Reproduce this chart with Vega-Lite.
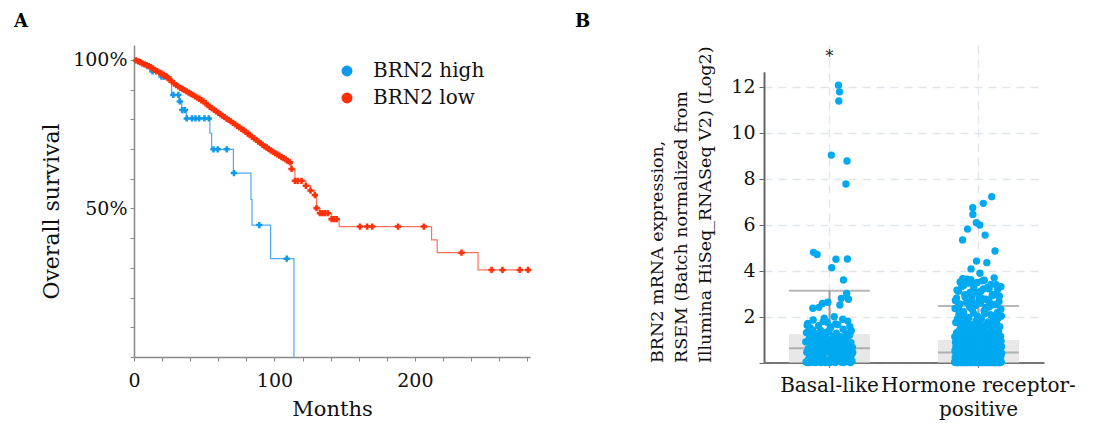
{
"$schema": "https://vega.github.io/schema/vega-lite/v6.json",
"background": "white",
"padding": {"left": 14, "top": 13, "right": 0, "bottom": 0},
"spacing": 43,
"config": {
  "font": "DejaVu Serif",
  "view": {"stroke": null},
  "axis": {"labelFont": "DejaVu Serif", "titleFont": "DejaVu Serif", "labelColor": "#111", "titleColor": "#111", "titleFontWeight": "normal"},
  "legend": {"labelFont": "DejaVu Serif"}
},
"datasets": {
  "km": [
    {"group":"BRN2 high","month":0,"surv":1,"censor":0},
    {"group":"BRN2 high","month":3,"surv":0.99,"censor":0},
    {"group":"BRN2 high","month":6,"surv":0.98,"censor":0},
    {"group":"BRN2 high","month":9,"surv":0.97,"censor":0},
    {"group":"BRN2 high","month":11.4,"surv":0.961,"censor":0},
    {"group":"BRN2 high","month":13.2,"surv":0.961,"censor":1},
    {"group":"BRN2 high","month":15.8,"surv":0.961,"censor":1},
    {"group":"BRN2 high","month":18.5,"surv":0.944,"censor":0},
    {"group":"BRN2 high","month":19.6,"surv":0.944,"censor":1},
    {"group":"BRN2 high","month":21.4,"surv":0.944,"censor":1},
    {"group":"BRN2 high","month":23.4,"surv":0.944,"censor":1},
    {"group":"BRN2 high","month":26.8,"surv":0.882,"censor":0},
    {"group":"BRN2 high","month":28,"surv":0.882,"censor":1},
    {"group":"BRN2 high","month":31.6,"surv":0.882,"censor":1},
    {"group":"BRN2 high","month":32.2,"surv":0.86,"censor":0},
    {"group":"BRN2 high","month":32.6,"surv":0.86,"censor":1},
    {"group":"BRN2 high","month":34,"surv":0.831,"censor":0},
    {"group":"BRN2 high","month":34.4,"surv":0.831,"censor":1},
    {"group":"BRN2 high","month":36.2,"surv":0.831,"censor":1},
    {"group":"BRN2 high","month":37.3,"surv":0.803,"censor":0},
    {"group":"BRN2 high","month":37.6,"surv":0.803,"censor":1},
    {"group":"BRN2 high","month":41.3,"surv":0.803,"censor":1},
    {"group":"BRN2 high","month":43.8,"surv":0.803,"censor":1},
    {"group":"BRN2 high","month":46.4,"surv":0.803,"censor":1},
    {"group":"BRN2 high","month":50.2,"surv":0.803,"censor":1},
    {"group":"BRN2 high","month":53.3,"surv":0.803,"censor":1},
    {"group":"BRN2 high","month":54,"surv":0.753,"censor":0},
    {"group":"BRN2 high","month":55.3,"surv":0.699,"censor":0},
    {"group":"BRN2 high","month":56.6,"surv":0.699,"censor":1},
    {"group":"BRN2 high","month":59.6,"surv":0.699,"censor":1},
    {"group":"BRN2 high","month":66,"surv":0.699,"censor":1},
    {"group":"BRN2 high","month":70.8,"surv":0.619,"censor":0},
    {"group":"BRN2 high","month":71.2,"surv":0.619,"censor":1},
    {"group":"BRN2 high","month":83.3,"surv":0.53,"censor":0},
    {"group":"BRN2 high","month":84,"surv":0.444,"censor":0},
    {"group":"BRN2 high","month":89.2,"surv":0.444,"censor":1},
    {"group":"BRN2 high","month":97.3,"surv":0.331,"censor":0},
    {"group":"BRN2 high","month":108.8,"surv":0.331,"censor":1},
    {"group":"BRN2 high","month":113.9,"surv":0,"censor":0},
    {"group":"BRN2 low","month":0,"surv":1,"censor":0},
    {"group":"BRN2 low","month":1.5,"surv":0.998,"censor":1},
    {"group":"BRN2 low","month":3,"surv":0.995,"censor":1},
    {"group":"BRN2 low","month":4.5,"surv":0.992,"censor":1},
    {"group":"BRN2 low","month":6,"surv":0.988,"censor":1},
    {"group":"BRN2 low","month":7.5,"surv":0.985,"censor":1},
    {"group":"BRN2 low","month":9,"surv":0.982,"censor":1},
    {"group":"BRN2 low","month":10.5,"surv":0.979,"censor":1},
    {"group":"BRN2 low","month":12,"surv":0.975,"censor":1},
    {"group":"BRN2 low","month":13.5,"surv":0.971,"censor":1},
    {"group":"BRN2 low","month":15,"surv":0.966,"censor":1},
    {"group":"BRN2 low","month":16.5,"surv":0.962,"censor":1},
    {"group":"BRN2 low","month":18,"surv":0.958,"censor":1},
    {"group":"BRN2 low","month":19.5,"surv":0.954,"censor":1},
    {"group":"BRN2 low","month":21,"surv":0.95,"censor":1},
    {"group":"BRN2 low","month":22.5,"surv":0.945,"censor":1},
    {"group":"BRN2 low","month":24,"surv":0.939,"censor":1},
    {"group":"BRN2 low","month":25.5,"surv":0.933,"censor":1},
    {"group":"BRN2 low","month":27,"surv":0.927,"censor":1},
    {"group":"BRN2 low","month":28.5,"surv":0.921,"censor":1},
    {"group":"BRN2 low","month":30,"surv":0.915,"censor":1},
    {"group":"BRN2 low","month":31.5,"surv":0.911,"censor":1},
    {"group":"BRN2 low","month":33,"surv":0.906,"censor":1},
    {"group":"BRN2 low","month":34.5,"surv":0.902,"censor":1},
    {"group":"BRN2 low","month":36,"surv":0.898,"censor":1},
    {"group":"BRN2 low","month":37.5,"surv":0.894,"censor":1},
    {"group":"BRN2 low","month":39,"surv":0.89,"censor":1},
    {"group":"BRN2 low","month":40.5,"surv":0.886,"censor":1},
    {"group":"BRN2 low","month":42,"surv":0.882,"censor":1},
    {"group":"BRN2 low","month":43.5,"surv":0.877,"censor":1},
    {"group":"BRN2 low","month":45,"surv":0.873,"censor":1},
    {"group":"BRN2 low","month":46.5,"surv":0.869,"censor":1},
    {"group":"BRN2 low","month":48,"surv":0.864,"censor":1},
    {"group":"BRN2 low","month":49.5,"surv":0.86,"censor":1},
    {"group":"BRN2 low","month":51,"surv":0.854,"censor":1},
    {"group":"BRN2 low","month":52.5,"surv":0.848,"censor":1},
    {"group":"BRN2 low","month":54,"surv":0.842,"censor":1},
    {"group":"BRN2 low","month":55.5,"surv":0.837,"censor":1},
    {"group":"BRN2 low","month":57,"surv":0.832,"censor":1},
    {"group":"BRN2 low","month":58.5,"surv":0.827,"censor":1},
    {"group":"BRN2 low","month":60,"surv":0.822,"censor":1},
    {"group":"BRN2 low","month":61.5,"surv":0.817,"censor":1},
    {"group":"BRN2 low","month":63,"surv":0.812,"censor":1},
    {"group":"BRN2 low","month":64.5,"surv":0.807,"censor":1},
    {"group":"BRN2 low","month":66,"surv":0.802,"censor":1},
    {"group":"BRN2 low","month":67.5,"surv":0.798,"censor":1},
    {"group":"BRN2 low","month":69,"surv":0.793,"censor":1},
    {"group":"BRN2 low","month":70.5,"surv":0.788,"censor":1},
    {"group":"BRN2 low","month":72,"surv":0.783,"censor":1},
    {"group":"BRN2 low","month":73.5,"surv":0.778,"censor":1},
    {"group":"BRN2 low","month":75,"surv":0.773,"censor":1},
    {"group":"BRN2 low","month":76.5,"surv":0.768,"censor":1},
    {"group":"BRN2 low","month":78,"surv":0.763,"censor":1},
    {"group":"BRN2 low","month":79.5,"surv":0.758,"censor":1},
    {"group":"BRN2 low","month":81,"surv":0.752,"censor":1},
    {"group":"BRN2 low","month":82.5,"surv":0.747,"censor":1},
    {"group":"BRN2 low","month":84,"surv":0.741,"censor":1},
    {"group":"BRN2 low","month":85.5,"surv":0.736,"censor":1},
    {"group":"BRN2 low","month":87,"surv":0.731,"censor":1},
    {"group":"BRN2 low","month":88.5,"surv":0.725,"censor":1},
    {"group":"BRN2 low","month":90,"surv":0.72,"censor":1},
    {"group":"BRN2 low","month":91.5,"surv":0.714,"censor":1},
    {"group":"BRN2 low","month":93,"surv":0.709,"censor":1},
    {"group":"BRN2 low","month":94.5,"surv":0.705,"censor":1},
    {"group":"BRN2 low","month":96,"surv":0.7,"censor":1},
    {"group":"BRN2 low","month":97.5,"surv":0.695,"censor":1},
    {"group":"BRN2 low","month":99,"surv":0.691,"censor":1},
    {"group":"BRN2 low","month":100.5,"surv":0.686,"censor":1},
    {"group":"BRN2 low","month":102,"surv":0.682,"censor":1},
    {"group":"BRN2 low","month":103.5,"surv":0.678,"censor":1},
    {"group":"BRN2 low","month":105,"surv":0.673,"censor":1},
    {"group":"BRN2 low","month":106.5,"surv":0.669,"censor":1},
    {"group":"BRN2 low","month":108,"surv":0.665,"censor":1},
    {"group":"BRN2 low","month":109.5,"surv":0.66,"censor":1},
    {"group":"BRN2 low","month":111,"surv":0.655,"censor":1},
    {"group":"BRN2 low","month":112.2,"surv":0.633,"censor":1},
    {"group":"BRN2 low","month":114.6,"surv":0.593,"censor":1},
    {"group":"BRN2 low","month":116.5,"surv":0.593,"censor":1},
    {"group":"BRN2 low","month":119.3,"surv":0.593,"censor":1},
    {"group":"BRN2 low","month":122.4,"surv":0.576,"censor":1},
    {"group":"BRN2 low","month":125.7,"surv":0.56,"censor":1},
    {"group":"BRN2 low","month":128.8,"surv":0.545,"censor":1},
    {"group":"BRN2 low","month":130,"surv":0.501,"censor":1},
    {"group":"BRN2 low","month":132.4,"surv":0.484,"censor":1},
    {"group":"BRN2 low","month":134.2,"surv":0.484,"censor":1},
    {"group":"BRN2 low","month":136,"surv":0.484,"censor":1},
    {"group":"BRN2 low","month":138,"surv":0.484,"censor":1},
    {"group":"BRN2 low","month":140.7,"surv":0.464,"censor":1},
    {"group":"BRN2 low","month":142.5,"surv":0.464,"censor":1},
    {"group":"BRN2 low","month":144.3,"surv":0.464,"censor":1},
    {"group":"BRN2 low","month":146.1,"surv":0.439,"censor":0},
    {"group":"BRN2 low","month":160.9,"surv":0.439,"censor":1},
    {"group":"BRN2 low","month":166,"surv":0.439,"censor":1},
    {"group":"BRN2 low","month":169.6,"surv":0.439,"censor":1},
    {"group":"BRN2 low","month":188,"surv":0.439,"censor":1},
    {"group":"BRN2 low","month":206.4,"surv":0.439,"censor":1},
    {"group":"BRN2 low","month":211.9,"surv":0.394,"censor":0},
    {"group":"BRN2 low","month":215.9,"surv":0.351,"censor":0},
    {"group":"BRN2 low","month":233.2,"surv":0.351,"censor":1},
    {"group":"BRN2 low","month":245,"surv":0.293,"censor":0},
    {"group":"BRN2 low","month":254.6,"surv":0.293,"censor":1},
    {"group":"BRN2 low","month":262.4,"surv":0.293,"censor":1},
    {"group":"BRN2 low","month":274.7,"surv":0.293,"censor":1},
    {"group":"BRN2 low","month":280.6,"surv":0.293,"censor":1}
  ],
  "box": [
    {"type":"Basal-like","q1":0,"median":0.62,"q3":1.24,"upper":3.12},
    {"type":"Hormone receptor-positive","q1":0,"median":0.43,"q3":0.98,"upper":2.46}
  ],
  "expr": [
    {"type":"Basal-like","expr":0.9},{"type":"Basal-like","expr":0.02},{"type":"Basal-like","expr":1.3},{"type":"Basal-like","expr":0.45},{"type":"Basal-like","expr":1.62},
    {"type":"Basal-like","expr":0},{"type":"Basal-like","expr":1.7},{"type":"Basal-like","expr":0.6},{"type":"Basal-like","expr":0.15},{"type":"Basal-like","expr":0.95},
    {"type":"Basal-like","expr":1.05},{"type":"Basal-like","expr":0.3},{"type":"Basal-like","expr":0},{"type":"Basal-like","expr":1.5},{"type":"Basal-like","expr":0.33},
    {"type":"Basal-like","expr":0.75},{"type":"Basal-like","expr":0.05},{"type":"Basal-like","expr":1.15},{"type":"Basal-like","expr":0.4},{"type":"Basal-like","expr":1.42},
    {"type":"Basal-like","expr":2.36},{"type":"Basal-like","expr":1.85},{"type":"Basal-like","expr":4.79},{"type":"Basal-like","expr":0.01},{"type":"Basal-like","expr":0.7},
    {"type":"Basal-like","expr":0.85},{"type":"Basal-like","expr":0.2},{"type":"Basal-like","expr":1.0},{"type":"Basal-like","expr":0},{"type":"Basal-like","expr":1.22},
    {"type":"Basal-like","expr":0.55},{"type":"Basal-like","expr":1.25},{"type":"Basal-like","expr":4.70},{"type":"Basal-like","expr":0.1},{"type":"Basal-like","expr":0.48},
    {"type":"Basal-like","expr":0.7},{"type":"Basal-like","expr":1.6},{"type":"Basal-like","expr":2.4},{"type":"Basal-like","expr":0.03},{"type":"Basal-like","expr":1.08},
    {"type":"Basal-like","expr":0.95},{"type":"Basal-like","expr":0.35},{"type":"Basal-like","expr":1.4},{"type":"Basal-like","expr":0},{"type":"Basal-like","expr":0.82},
    {"type":"Basal-like","expr":0.65},{"type":"Basal-like","expr":1.1},{"type":"Basal-like","expr":2.57},{"type":"Basal-like","expr":0.25},{"type":"Basal-like","expr":1.78},
    {"type":"Basal-like","expr":0.8},{"type":"Basal-like","expr":0.04},{"type":"Basal-like","expr":1.93},{"type":"Basal-like","expr":0.5},{"type":"Basal-like","expr":0.58},
    {"type":"Basal-like","expr":1.2},{"type":"Basal-like","expr":0},{"type":"Basal-like","expr":0.12},{"type":"Basal-like","expr":0.88},{"type":"Basal-like","expr":1.32},
    {"type":"Basal-like","expr":1.75},{"type":"Basal-like","expr":0.6},{"type":"Basal-like","expr":2.62},{"type":"Basal-like","expr":0.02},{"type":"Basal-like","expr":0.9},
    {"type":"Basal-like","expr":1.35},{"type":"Basal-like","expr":0.42},{"type":"Basal-like","expr":0.98},{"type":"Basal-like","expr":0},{"type":"Basal-like","expr":1.5},
    {"type":"Basal-like","expr":0.72},{"type":"Basal-like","expr":1.55},{"type":"Basal-like","expr":9.02},{"type":"Basal-like","expr":4.12},{"type":"Basal-like","expr":0.26},
    {"type":"Basal-like","expr":0.18},{"type":"Basal-like","expr":1.08},{"type":"Basal-like","expr":0.06},{"type":"Basal-like","expr":0.58},{"type":"Basal-like","expr":1.15},
    {"type":"Basal-like","expr":1.99},{"type":"Basal-like","expr":0.32},{"type":"Basal-like","expr":0.82},{"type":"Basal-like","expr":0},{"type":"Basal-like","expr":1.68},
    {"type":"Basal-like","expr":4.49},{"type":"Basal-like","expr":1.28},{"type":"Basal-like","expr":0.48},{"type":"Basal-like","expr":0.08},{"type":"Basal-like","expr":0.76},
    {"type":"Basal-like","expr":1.65},{"type":"Basal-like","expr":0.68},{"type":"Basal-like","expr":12.06},{"type":"Basal-like","expr":11.37},{"type":"Basal-like","expr":1.02},
    {"type":"Basal-like","expr":11.77},{"type":"Basal-like","expr":2.5},{"type":"Basal-like","expr":0.22},{"type":"Basal-like","expr":1.12},{"type":"Basal-like","expr":0.62},
    {"type":"Basal-like","expr":2.79},{"type":"Basal-like","expr":0.01},{"type":"Basal-like","expr":0.92},{"type":"Basal-like","expr":0.38},{"type":"Basal-like","expr":1.88},
    {"type":"Basal-like","expr":1.45},{"type":"Basal-like","expr":3.59},{"type":"Basal-like","expr":0},{"type":"Basal-like","expr":0.78},{"type":"Basal-like","expr":0.44},
    {"type":"Basal-like","expr":0.14},{"type":"Basal-like","expr":1.02},{"type":"Basal-like","expr":0.52},{"type":"Basal-like","expr":7.76},{"type":"Basal-like","expr":1.26},
    {"type":"Basal-like","expr":3.0},{"type":"Basal-like","expr":8.76},{"type":"Basal-like","expr":4.50},{"type":"Basal-like","expr":1.8},{"type":"Basal-like","expr":0.84},
    {"type":"Basal-like","expr":2.75},{"type":"Basal-like","expr":0.03},{"type":"Basal-like","expr":0.62},{"type":"Basal-like","expr":1.18},{"type":"Basal-like","expr":1.56},
    {"type":"Basal-like","expr":0.28},{"type":"Basal-like","expr":0},{"type":"Basal-like","expr":0.86},{"type":"Basal-like","expr":1.38},{"type":"Basal-like","expr":0.36},
    {"type":"Basal-like","expr":0.07},{"type":"Basal-like","expr":0.66},{"type":"Basal-like","expr":0.44},
    {"type":"Hormone receptor-positive","expr":0.02},{"type":"Hormone receptor-positive","expr":1.12},{"type":"Hormone receptor-positive","expr":0.51},{"type":"Hormone receptor-positive","expr":2.35},{"type":"Hormone receptor-positive","expr":0.22},{"type":"Hormone receptor-positive","expr":2.7},{"type":"Hormone receptor-positive","expr":0.88},{"type":"Hormone receptor-positive","expr":0},{"type":"Hormone receptor-positive","expr":1.74},{"type":"Hormone receptor-positive","expr":0.69},{"type":"Hormone receptor-positive","expr":0.38},
    {"type":"Hormone receptor-positive","expr":0.6},{"type":"Hormone receptor-positive","expr":0.05},{"type":"Hormone receptor-positive","expr":2.8},{"type":"Hormone receptor-positive","expr":1.3},{"type":"Hormone receptor-positive","expr":0.31},{"type":"Hormone receptor-positive","expr":3.15},{"type":"Hormone receptor-positive","expr":0},{"type":"Hormone receptor-positive","expr":0.95},{"type":"Hormone receptor-positive","expr":0.42},{"type":"Hormone receptor-positive","expr":1.9},{"type":"Hormone receptor-positive","expr":0.74},
    {"type":"Hormone receptor-positive","expr":1.05},{"type":"Hormone receptor-positive","expr":0.18},{"type":"Hormone receptor-positive","expr":0},{"type":"Hormone receptor-positive","expr":0.57},{"type":"Hormone receptor-positive","expr":3.1},{"type":"Hormone receptor-positive","expr":2.45},{"type":"Hormone receptor-positive","expr":0.83},{"type":"Hormone receptor-positive","expr":0.03},{"type":"Hormone receptor-positive","expr":2.1},{"type":"Hormone receptor-positive","expr":0.36},{"type":"Hormone receptor-positive","expr":0.66},
    {"type":"Hormone receptor-positive","expr":0.01},{"type":"Hormone receptor-positive","expr":0.47},{"type":"Hormone receptor-positive","expr":1.42},{"type":"Hormone receptor-positive","expr":0.27},{"type":"Hormone receptor-positive","expr":2.55},{"type":"Hormone receptor-positive","expr":3.5},{"type":"Hormone receptor-positive","expr":0.91},{"type":"Hormone receptor-positive","expr":0.72},{"type":"Hormone receptor-positive","expr":0},{"type":"Hormone receptor-positive","expr":1.62},{"type":"Hormone receptor-positive","expr":0.4},
    {"type":"Hormone receptor-positive","expr":0.33},{"type":"Hormone receptor-positive","expr":1.21},{"type":"Hormone receptor-positive","expr":0.07},{"type":"Hormone receptor-positive","expr":0.63},{"type":"Hormone receptor-positive","expr":0},{"type":"Hormone receptor-positive","expr":2.2},{"type":"Hormone receptor-positive","expr":3.3},{"type":"Hormone receptor-positive","expr":0.98},{"type":"Hormone receptor-positive","expr":0.2},{"type":"Hormone receptor-positive","expr":1.85},{"type":"Hormone receptor-positive","expr":0.77},
    {"type":"Hormone receptor-positive","expr":5.33},{"type":"Hormone receptor-positive","expr":3.64},
    {"type":"Hormone receptor-positive","expr":0.04},{"type":"Hormone receptor-positive","expr":0.54},{"type":"Hormone receptor-positive","expr":1.08},{"type":"Hormone receptor-positive","expr":2.22},{"type":"Hormone receptor-positive","expr":0.16},{"type":"Hormone receptor-positive","expr":3.35},{"type":"Hormone receptor-positive","expr":0.86},{"type":"Hormone receptor-positive","expr":0},{"type":"Hormone receptor-positive","expr":2.05},{"type":"Hormone receptor-positive","expr":0.7},{"type":"Hormone receptor-positive","expr":0.35},
    {"type":"Hormone receptor-positive","expr":1.35},{"type":"Hormone receptor-positive","expr":0},{"type":"Hormone receptor-positive","expr":0.45},{"type":"Hormone receptor-positive","expr":2.95},{"type":"Hormone receptor-positive","expr":0.25},{"type":"Hormone receptor-positive","expr":2.85},{"type":"Hormone receptor-positive","expr":0.81},{"type":"Hormone receptor-positive","expr":0.06},{"type":"Hormone receptor-positive","expr":1.55},{"type":"Hormone receptor-positive","expr":0.64},{"type":"Hormone receptor-positive","expr":0.41},
    {"type":"Hormone receptor-positive","expr":0},{"type":"Hormone receptor-positive","expr":0.59},{"type":"Hormone receptor-positive","expr":1.17},{"type":"Hormone receptor-positive","expr":0.29},{"type":"Hormone receptor-positive","expr":2.62},{"type":"Hormone receptor-positive","expr":3.62},{"type":"Hormone receptor-positive","expr":0.93},{"type":"Hormone receptor-positive","expr":0.02},{"type":"Hormone receptor-positive","expr":1.78},{"type":"Hormone receptor-positive","expr":0.68},{"type":"Hormone receptor-positive","expr":0.37},
    {"type":"Hormone receptor-positive","expr":5.80},
    {"type":"Hormone receptor-positive","expr":0.12},{"type":"Hormone receptor-positive","expr":1.48},{"type":"Hormone receptor-positive","expr":0},{"type":"Hormone receptor-positive","expr":0.52},{"type":"Hormone receptor-positive","expr":3.45},{"type":"Hormone receptor-positive","expr":2.58},{"type":"Hormone receptor-positive","expr":0.85},{"type":"Hormone receptor-positive","expr":0.05},{"type":"Hormone receptor-positive","expr":1.95},{"type":"Hormone receptor-positive","expr":0.75},{"type":"Hormone receptor-positive","expr":0.3},
    {"type":"Hormone receptor-positive","expr":0.03},{"type":"Hormone receptor-positive","expr":0.61},{"type":"Hormone receptor-positive","expr":1.26},{"type":"Hormone receptor-positive","expr":2.4},{"type":"Hormone receptor-positive","expr":0.19},{"type":"Hormone receptor-positive","expr":3.05},{"type":"Hormone receptor-positive","expr":0.97},{"type":"Hormone receptor-positive","expr":0},{"type":"Hormone receptor-positive","expr":1.66},{"type":"Hormone receptor-positive","expr":0.71},{"type":"Hormone receptor-positive","expr":0.44},
    {"type":"Hormone receptor-positive","expr":3.6},{"type":"Hormone receptor-positive","expr":4.07},
    {"type":"Hormone receptor-positive","expr":0.55},{"type":"Hormone receptor-positive","expr":0},{"type":"Hormone receptor-positive","expr":1.02},{"type":"Hormone receptor-positive","expr":0.24},{"type":"Hormone receptor-positive","expr":2.7},{"type":"Hormone receptor-positive","expr":2.9},{"type":"Hormone receptor-positive","expr":0.89},{"type":"Hormone receptor-positive","expr":0.08},{"type":"Hormone receptor-positive","expr":2.3},{"type":"Hormone receptor-positive","expr":0.66},{"type":"Hormone receptor-positive","expr":0.39},
    {"type":"Hormone receptor-positive","expr":6.73},{"type":"Hormone receptor-positive","expr":6.44},
    {"type":"Hormone receptor-positive","expr":0.01},{"type":"Hormone receptor-positive","expr":1.38},{"type":"Hormone receptor-positive","expr":0.49},{"type":"Hormone receptor-positive","expr":2.15},{"type":"Hormone receptor-positive","expr":0.28},{"type":"Hormone receptor-positive","expr":3.25},{"type":"Hormone receptor-positive","expr":0.8},{"type":"Hormone receptor-positive","expr":0},{"type":"Hormone receptor-positive","expr":1.58},{"type":"Hormone receptor-positive","expr":0.73},{"type":"Hormone receptor-positive","expr":0.34},
    {"type":"Hormone receptor-positive","expr":3.43},
    {"type":"Hormone receptor-positive","expr":0.9},{"type":"Hormone receptor-positive","expr":0.04},{"type":"Hormone receptor-positive","expr":2.48},{"type":"Hormone receptor-positive","expr":1.15},{"type":"Hormone receptor-positive","expr":0.21},{"type":"Hormone receptor-positive","expr":2.5},{"type":"Hormone receptor-positive","expr":0},{"type":"Hormone receptor-positive","expr":0.58},{"type":"Hormone receptor-positive","expr":0.43},{"type":"Hormone receptor-positive","expr":1.82},{"type":"Hormone receptor-positive","expr":0.67},
    {"type":"Hormone receptor-positive","expr":6.08},{"type":"Hormone receptor-positive","expr":4.41},
    {"type":"Hormone receptor-positive","expr":0},{"type":"Hormone receptor-positive","expr":0.53},{"type":"Hormone receptor-positive","expr":1.44},{"type":"Hormone receptor-positive","expr":0.17},{"type":"Hormone receptor-positive","expr":3.05},{"type":"Hormone receptor-positive","expr":3.48},{"type":"Hormone receptor-positive","expr":0.94},{"type":"Hormone receptor-positive","expr":0.06},{"type":"Hormone receptor-positive","expr":2.0},{"type":"Hormone receptor-positive","expr":0.76},{"type":"Hormone receptor-positive","expr":0.31},
    {"type":"Hormone receptor-positive","expr":0.26},{"type":"Hormone receptor-positive","expr":1.09},{"type":"Hormone receptor-positive","expr":0.02},{"type":"Hormone receptor-positive","expr":0.62},{"type":"Hormone receptor-positive","expr":0},{"type":"Hormone receptor-positive","expr":2.68},{"type":"Hormone receptor-positive","expr":2.85},{"type":"Hormone receptor-positive","expr":0.87},{"type":"Hormone receptor-positive","expr":0.36},{"type":"Hormone receptor-positive","expr":1.7},{"type":"Hormone receptor-positive","expr":0.69},
    {"type":"Hormone receptor-positive","expr":5.98},{"type":"Hormone receptor-positive","expr":3.88},
    {"type":"Hormone receptor-positive","expr":0.07},{"type":"Hormone receptor-positive","expr":0.48},{"type":"Hormone receptor-positive","expr":1.31},{"type":"Hormone receptor-positive","expr":2.6},{"type":"Hormone receptor-positive","expr":0.14},{"type":"Hormone receptor-positive","expr":3.1},{"type":"Hormone receptor-positive","expr":0.82},{"type":"Hormone receptor-positive","expr":0},{"type":"Hormone receptor-positive","expr":1.88},{"type":"Hormone receptor-positive","expr":0.72},{"type":"Hormone receptor-positive","expr":0.42},
    {"type":"Hormone receptor-positive","expr":1.2},{"type":"Hormone receptor-positive","expr":0},{"type":"Hormone receptor-positive","expr":0.56},{"type":"Hormone receptor-positive","expr":3.55},{"type":"Hormone receptor-positive","expr":0.23},{"type":"Hormone receptor-positive","expr":2.78},{"type":"Hormone receptor-positive","expr":0.96},{"type":"Hormone receptor-positive","expr":0.03},{"type":"Hormone receptor-positive","expr":1.52},{"type":"Hormone receptor-positive","expr":0.65},{"type":"Hormone receptor-positive","expr":0.38},
    {"type":"Hormone receptor-positive","expr":6.92},{"type":"Hormone receptor-positive","expr":3.2},
    {"type":"Hormone receptor-positive","expr":0},{"type":"Hormone receptor-positive","expr":0.5},{"type":"Hormone receptor-positive","expr":1.0},{"type":"Hormone receptor-positive","expr":0.3},{"type":"Hormone receptor-positive","expr":2.25},{"type":"Hormone receptor-positive","expr":3.58},{"type":"Hormone receptor-positive","expr":0.84},{"type":"Hormone receptor-positive","expr":0.01},{"type":"Hormone receptor-positive","expr":2.12},{"type":"Hormone receptor-positive","expr":0.7},{"type":"Hormone receptor-positive","expr":0.33},
    {"type":"Hormone receptor-positive","expr":5.54},
    {"type":"Hormone receptor-positive","expr":0.11},{"type":"Hormone receptor-positive","expr":1.4},{"type":"Hormone receptor-positive","expr":0},{"type":"Hormone receptor-positive","expr":0.6},{"type":"Hormone receptor-positive","expr":2.75},{"type":"Hormone receptor-positive","expr":2.4},{"type":"Hormone receptor-positive","expr":0.92},{"type":"Hormone receptor-positive","expr":0.05},{"type":"Hormone receptor-positive","expr":1.64},{"type":"Hormone receptor-positive","expr":0.78},{"type":"Hormone receptor-positive","expr":0.4},
    {"type":"Hormone receptor-positive","expr":4.34},
    {"type":"Hormone receptor-positive","expr":0.02},{"type":"Hormone receptor-positive","expr":0.57},{"type":"Hormone receptor-positive","expr":1.24},{"type":"Hormone receptor-positive","expr":2.38},{"type":"Hormone receptor-positive","expr":0.18},{"type":"Hormone receptor-positive","expr":3.28},{"type":"Hormone receptor-positive","expr":0.86},{"type":"Hormone receptor-positive","expr":0},{"type":"Hormone receptor-positive","expr":1.76},{"type":"Hormone receptor-positive","expr":0.68},{"type":"Hormone receptor-positive","expr":0.29},
    {"type":"Hormone receptor-positive","expr":0.47},{"type":"Hormone receptor-positive","expr":0.04},{"type":"Hormone receptor-positive","expr":1.11},{"type":"Hormone receptor-positive","expr":0.27},{"type":"Hormone receptor-positive","expr":3.2},{"type":"Hormone receptor-positive","expr":2.62},{"type":"Hormone receptor-positive","expr":0.99},{"type":"Hormone receptor-positive","expr":0},{"type":"Hormone receptor-positive","expr":2.44},{"type":"Hormone receptor-positive","expr":0.74},{"type":"Hormone receptor-positive","expr":0.35},
    {"type":"Hormone receptor-positive","expr":0},{"type":"Hormone receptor-positive","expr":1.33},{"type":"Hormone receptor-positive","expr":0.52},{"type":"Hormone receptor-positive","expr":2.08},{"type":"Hormone receptor-positive","expr":0.2},{"type":"Hormone receptor-positive","expr":3.4},{"type":"Hormone receptor-positive","expr":0.83},{"type":"Hormone receptor-positive","expr":0.06},{"type":"Hormone receptor-positive","expr":1.6},{"type":"Hormone receptor-positive","expr":0.63},{"type":"Hormone receptor-positive","expr":0.41},
    {"type":"Hormone receptor-positive","expr":7.21},
    {"type":"Hormone receptor-positive","expr":0.88},{"type":"Hormone receptor-positive","expr":0.01},{"type":"Hormone receptor-positive","expr":2.9},{"type":"Hormone receptor-positive","expr":1.18},{"type":"Hormone receptor-positive","expr":0.32},{"type":"Hormone receptor-positive","expr":2.95},{"type":"Hormone receptor-positive","expr":0},{"type":"Hormone receptor-positive","expr":0.55},{"type":"Hormone receptor-positive","expr":0.39},{"type":"Hormone receptor-positive","expr":1.98},{"type":"Hormone receptor-positive","expr":0.7},
    {"type":"Hormone receptor-positive","expr":0.03},{"type":"Hormone receptor-positive","expr":0.58},{"type":"Hormone receptor-positive","expr":1.46},{"type":"Hormone receptor-positive","expr":0.15},{"type":"Hormone receptor-positive","expr":2.52},{"type":"Hormone receptor-positive","expr":3.68},{"type":"Hormone receptor-positive","expr":0.9},{"type":"Hormone receptor-positive","expr":0},{"type":"Hormone receptor-positive","expr":1.84},{"type":"Hormone receptor-positive","expr":0.77},{"type":"Hormone receptor-positive","expr":0.37},
    {"type":"Hormone receptor-positive","expr":4.85},
    {"type":"Hormone receptor-positive","expr":0.28},{"type":"Hormone receptor-positive","expr":1.06},{"type":"Hormone receptor-positive","expr":0},{"type":"Hormone receptor-positive","expr":0.64},{"type":"Hormone receptor-positive","expr":0.02},{"type":"Hormone receptor-positive","expr":2.52},{"type":"Hormone receptor-positive","expr":3.38},{"type":"Hormone receptor-positive","expr":0.81},{"type":"Hormone receptor-positive","expr":0.34},{"type":"Hormone receptor-positive","expr":1.72},{"type":"Hormone receptor-positive","expr":0.67},
    {"type":"Hormone receptor-positive","expr":3.0},{"type":"Hormone receptor-positive","expr":2.93},
    {"type":"Hormone receptor-positive","expr":0.05},{"type":"Hormone receptor-positive","expr":0.46},{"type":"Hormone receptor-positive","expr":1.29},{"type":"Hormone receptor-positive","expr":2.18},{"type":"Hormone receptor-positive","expr":0.24},{"type":"Hormone receptor-positive","expr":3.18},{"type":"Hormone receptor-positive","expr":0.95},{"type":"Hormone receptor-positive","expr":0},{"type":"Hormone receptor-positive","expr":1.92},{"type":"Hormone receptor-positive","expr":0.71},{"type":"Hormone receptor-positive","expr":0.43},
    {"type":"Hormone receptor-positive","expr":1.37},{"type":"Hormone receptor-positive","expr":0},{"type":"Hormone receptor-positive","expr":0.53},{"type":"Hormone receptor-positive","expr":2.65},{"type":"Hormone receptor-positive","expr":0.17},{"type":"Hormone receptor-positive","expr":2.88},{"type":"Hormone receptor-positive","expr":0.87},{"type":"Hormone receptor-positive","expr":0.04},{"type":"Hormone receptor-positive","expr":1.56},{"type":"Hormone receptor-positive","expr":0.62},{"type":"Hormone receptor-positive","expr":0.32},
    {"type":"Hormone receptor-positive","expr":0},{"type":"Hormone receptor-positive","expr":0.6},{"type":"Hormone receptor-positive","expr":1.14},{"type":"Hormone receptor-positive","expr":0.26},{"type":"Hormone receptor-positive","expr":2.32},{"type":"Hormone receptor-positive","expr":3.3},{"type":"Hormone receptor-positive","expr":0.93},{"type":"Hormone receptor-positive","expr":0.02},{"type":"Hormone receptor-positive","expr":2.02},{"type":"Hormone receptor-positive","expr":0.69},{"type":"Hormone receptor-positive","expr":0.4}
  ]
},
"hconcat": [
  {
    "width": 396,
    "height": 312,
    "title": {"text": "A", "anchor": "start", "frame": "group", "dx": -120, "offset": 14, "fontSize": 18, "fontWeight": "bold", "font": "DejaVu Serif", "color": "#000"},
    "data": {"name": "km"},
    "encoding": {
      "x": {"field": "month", "type": "quantitative",
        "scale": {"domain": [0, 282], "nice": false},
        "axis": {"title": "Months", "values": [0,20,40,60,80,100,120,140,160,180,200,220,240,260,280],
          "labelExpr": "datum.value % 100 == 0 ? datum.label : ''", "labelFontSize": 19, "titleFontSize": 21,
          "grid": false, "tickSize": 4, "tickColor": "#888", "domainColor": "#888", "domainWidth": 1.5,
          "labelPadding": 10, "titlePadding": 8, "labelFlush": false, "labelOverlap": false}},
      "y": {"field": "surv", "type": "quantitative",
        "scale": {"domain": [0, 1.05], "nice": false},
        "axis": {"title": "Overall survival", "values": [0,0.1,0.2,0.3,0.4,0.5,0.6,0.7,0.8,0.9,1],
          "labelExpr": "datum.value == 0.5 || datum.value == 1 ? format(datum.value, '.0%') : ''",
          "labelFontSize": 19, "titleFontSize": 22, "grid": false, "tickSize": 4, "tickColor": "#888",
          "domainColor": "#888", "domainWidth": 1.5, "labelPadding": 3, "titlePadding": 9, "titleY": 166, "labelOverlap": false}}
    },
    "layer": [
      {"mark": {"type": "line", "interpolate": "step-after", "strokeWidth": 1.2},
       "encoding": {"stroke": {"field": "group", "type": "nominal",
         "scale": {"domain": ["BRN2 high", "BRN2 low"], "range": ["#4ea8ee", "#ff7058"]},
         "legend": {"title": null, "orient": "none", "legendX": 203, "legendY": 16, "symbolType": "circle",
           "symbolSize": 120, "symbolStrokeWidth": 0, "symbolOpacity": 1, "labelFontSize": 20, "labelColor": "#111",
           "labelOffset": 16, "rowPadding": 7, "padding": 0}}}},
      {"transform": [{"filter": "datum.censor == 1"}],
       "mark": {"type": "point", "shape": "cross", "filled": true, "size": 40, "opacity": 1},
       "encoding": {"color": {"field": "group", "type": "nominal",
         "scale": {"domain": ["BRN2 high", "BRN2 low"], "range": ["#0e9ae9", "#ff2e05"]},
         "legend": {"title": null, "orient": "none", "legendX": 203, "legendY": 16, "symbolType": "circle",
           "symbolSize": 120, "symbolStrokeWidth": 0, "symbolOpacity": 1, "labelFontSize": 20, "labelColor": "#111",
           "labelOffset": 16, "rowPadding": 7, "padding": 0}}}}
    ]
  },
  {
    "width": 280,
    "height": 317.5,
    "title": {"text": "B", "anchor": "start", "frame": "group", "dx": -189, "offset": 14, "fontSize": 18, "fontWeight": "bold", "font": "DejaVu Serif", "color": "#000"},
    "encoding": {
      "x": {"field": "type", "type": "nominal",
        "scale": {"domain": ["Basal-like", "Hormone receptor-positive"], "paddingInner": 0.68, "paddingOuter": 0.28},
        "axis": {"title": null, "labelAngle": 0, "labelFontSize": 20, "labelLimit": 400, "labelLineHeight": 24,
          "labelExpr": "datum.value == 'Hormone receptor-positive' ? ['Hormone receptor-', 'positive'] : datum.label",
          "tickSize": 5, "tickColor": "#777", "domainColor": "#777", "domainWidth": 2, "labelPadding": 8,
          "grid": true, "gridDash": [8, 6], "gridColor": "#dfe5ea", "gridWidth": 1.3, "bandPosition": 0.5}}
    },
    "layer": [
      {"data": {"name": "box"},
       "mark": {"type": "bar", "width": 81, "color": "#e8e8e8"},
       "encoding": {
         "y": {"field": "q1", "type": "quantitative",
           "scale": {"domain": [0, 12.64], "range": [317.5, 26.8], "nice": false},
           "axis": {"title": ["BRN2 mRNA expression,", "RSEM (Batch normalized from", "Illumina HiSeq_RNASeq V2) (Log2)"],
             "titleFontSize": 17.5, "titleLineHeight": 24, "titlePadding": 16, "titleAnchor": "start", "titleAlign": "left",
             "values": [0,2,4,6,8,10,12], "labelExpr": "datum.value == 0 ? '' : datum.label",
             "labelFontSize": 19, "tickSize": 5, "tickColor": "#666", "labelPadding": 4, "domainColor": "#666", "domainWidth": 2,
             "grid": true, "gridDash": [8, 6], "gridColor": "#dfe5ea", "gridWidth": 1.3}},
         "y2": {"field": "q3"}
       }},
      {"data": {"name": "box"},
       "mark": {"type": "rule", "color": "#999", "strokeWidth": 2},
       "encoding": {
         "y": {"field": "q3", "type": "quantitative",
           "scale": {"domain": [0, 12.64], "range": [317.5, 26.8], "nice": false},
           "axis": {"title": ["BRN2 mRNA expression,", "RSEM (Batch normalized from", "Illumina HiSeq_RNASeq V2) (Log2)"],
             "titleFontSize": 17.5, "titleLineHeight": 24, "titlePadding": 16, "titleAnchor": "start", "titleAlign": "left",
             "values": [0,2,4,6,8,10,12], "labelExpr": "datum.value == 0 ? '' : datum.label",
             "labelFontSize": 19, "tickSize": 5, "tickColor": "#666", "labelPadding": 4, "domainColor": "#666", "domainWidth": 2,
             "grid": true, "gridDash": [8, 6], "gridColor": "#dfe5ea", "gridWidth": 1.3}},
         "y2": {"field": "upper"}}},
      {"data": {"name": "box"},
       "mark": {"type": "tick", "color": "#999", "size": 81, "thickness": 2},
       "encoding": {
         "y": {"field": "upper", "type": "quantitative",
           "scale": {"domain": [0, 12.64], "range": [317.5, 26.8], "nice": false},
           "axis": {"title": ["BRN2 mRNA expression,", "RSEM (Batch normalized from", "Illumina HiSeq_RNASeq V2) (Log2)"],
             "titleFontSize": 17.5, "titleLineHeight": 24, "titlePadding": 16, "titleAnchor": "start", "titleAlign": "left",
             "values": [0,2,4,6,8,10,12], "labelExpr": "datum.value == 0 ? '' : datum.label",
             "labelFontSize": 19, "tickSize": 5, "tickColor": "#666", "labelPadding": 4, "domainColor": "#666", "domainWidth": 2,
             "grid": true, "gridDash": [8, 6], "gridColor": "#dfe5ea", "gridWidth": 1.3}}}},
      {"data": {"name": "box"},
       "mark": {"type": "tick", "color": "#999", "size": 81, "thickness": 2},
       "encoding": {
         "y": {"field": "median", "type": "quantitative",
           "scale": {"domain": [0, 12.64], "range": [317.5, 26.8], "nice": false},
           "axis": {"title": ["BRN2 mRNA expression,", "RSEM (Batch normalized from", "Illumina HiSeq_RNASeq V2) (Log2)"],
             "titleFontSize": 17.5, "titleLineHeight": 24, "titlePadding": 16, "titleAnchor": "start", "titleAlign": "left",
             "values": [0,2,4,6,8,10,12], "labelExpr": "datum.value == 0 ? '' : datum.label",
             "labelFontSize": 19, "tickSize": 5, "tickColor": "#666", "labelPadding": 4, "domainColor": "#666", "domainWidth": 2,
             "grid": true, "gridDash": [8, 6], "gridColor": "#dfe5ea", "gridWidth": 1.3}}}},
      {"data": {"name": "expr"},
       "transform": [
         {"window": [{"op": "row_number", "as": "n"}], "groupby": ["type"]},
         {"window": [{"op": "percent_rank", "as": "j"}], "sort": [{"field": "n"}], "groupby": ["type"]}
       ],
       "mark": {"type": "circle", "size": 54, "color": "#00a9f0", "opacity": 1},
       "encoding": {
         "xOffset": {"field": "j", "type": "quantitative", "scale": {"domain": [0, 1], "range": [0, 47]}},
         "y": {"field": "expr", "type": "quantitative",
           "scale": {"domain": [0, 12.64], "range": [317.5, 26.8], "nice": false},
           "axis": {"title": ["BRN2 mRNA expression,", "RSEM (Batch normalized from", "Illumina HiSeq_RNASeq V2) (Log2)"],
             "titleFontSize": 17.5, "titleLineHeight": 24, "titlePadding": 16, "titleAnchor": "start", "titleAlign": "left",
             "values": [0,2,4,6,8,10,12], "labelExpr": "datum.value == 0 ? '' : datum.label",
             "labelFontSize": 19, "tickSize": 5, "tickColor": "#666", "labelPadding": 4, "domainColor": "#666", "domainWidth": 2,
             "grid": true, "gridDash": [8, 6], "gridColor": "#dfe5ea", "gridWidth": 1.3}}}},
      {"data": {"values": [{"type": "Basal-like", "label": "*"}]},
       "mark": {"type": "text", "fontSize": 16, "font": "DejaVu Serif", "baseline": "middle", "color": "#222"},
       "encoding": {
         "y": {"datum": 13.3, "type": "quantitative",
           "scale": {"domain": [0, 12.64], "range": [317.5, 26.8], "nice": false},
           "axis": {"title": ["BRN2 mRNA expression,", "RSEM (Batch normalized from", "Illumina HiSeq_RNASeq V2) (Log2)"],
             "titleFontSize": 17.5, "titleLineHeight": 24, "titlePadding": 16, "titleAnchor": "start", "titleAlign": "left",
             "values": [0,2,4,6,8,10,12], "labelExpr": "datum.value == 0 ? '' : datum.label",
             "labelFontSize": 19, "tickSize": 5, "tickColor": "#666", "labelPadding": 4, "domainColor": "#666", "domainWidth": 2,
             "grid": true, "gridDash": [8, 6], "gridColor": "#dfe5ea", "gridWidth": 1.3}},
         "text": {"field": "label"}}}
    ]
  }
]
}
